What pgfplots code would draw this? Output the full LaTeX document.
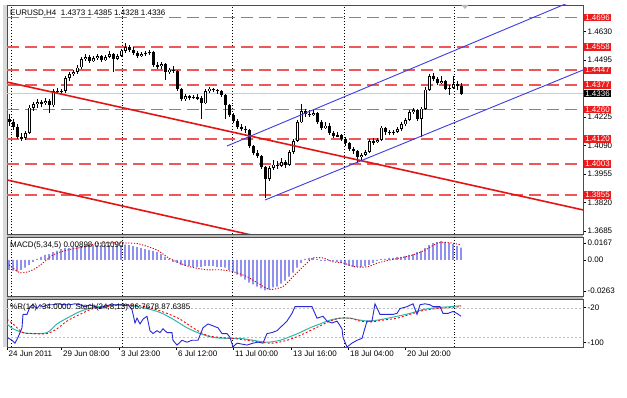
\documentclass[border=0pt]{standalone}
\usepackage{pgfplots}
\pgfplotsset{compat=1.18}
\usepackage{pgfplotstable}
\usepackage{fontspec}
\setmainfont{Liberation Sans}
\definecolor{lvl}{RGB}{238,88,88}
\definecolor{trend}{RGB}{228,20,20}
\definecolor{chan}{RGB}{60,60,225}
\definecolor{histc}{RGB}{85,85,235}
\definecolor{stochg}{RGB}{45,185,175}
\definecolor{wprb}{RGB}{40,40,215}
\definecolor{boxred}{RGB}{236,28,28}
\newcommand\mtf{\fontsize{8}{9.5}\selectfont}

\pgfplotstableread{
x O H L C
9 1.4215 1.4240 1.4185 1.4200
13 1.4200 1.4215 1.4165 1.4180
17 1.4180 1.4190 1.4120 1.4130
21 1.4130 1.4150 1.4110 1.4125
25 1.4125 1.4160 1.4115 1.4150
29 1.4150 1.4280 1.4145 1.4270
33 1.4270 1.4295 1.4255 1.4285
37 1.4285 1.4310 1.4270 1.4295
41 1.4295 1.4305 1.4275 1.4290
45 1.4290 1.4315 1.4280 1.4300
49 1.4300 1.4310 1.4245 1.4280
53 1.4280 1.4360 1.4275 1.4350
57 1.4350 1.4365 1.4335 1.4345
61 1.4345 1.4360 1.4330 1.4350
65 1.4350 1.4420 1.4340 1.4410
69 1.4410 1.4440 1.4395 1.4430
73 1.4430 1.4450 1.4420 1.4440
77 1.4440 1.4470 1.4430 1.4460
81 1.4460 1.4510 1.4455 1.4500
85 1.4500 1.4525 1.4490 1.4510
89 1.4510 1.4520 1.4480 1.4490
93 1.4490 1.4515 1.4485 1.4505
97 1.4505 1.4525 1.4495 1.4515
101 1.4515 1.4520 1.4485 1.4495
105 1.4495 1.4520 1.4490 1.4510
109 1.4510 1.4540 1.4505 1.4525
113 1.4525 1.4530 1.4440 1.4500
117 1.4500 1.4525 1.4495 1.4515
121 1.4515 1.4550 1.4510 1.4540
125 1.4540 1.4575 1.4530 1.4555
129 1.4555 1.4565 1.4535 1.4545
133 1.4545 1.4555 1.4520 1.4530
137 1.4530 1.4540 1.4505 1.4515
141 1.4515 1.4535 1.4510 1.4525
145 1.4525 1.4540 1.4515 1.4530
149 1.4530 1.4545 1.4520 1.4535
153 1.4535 1.4540 1.4460 1.4470
157 1.4470 1.4485 1.4455 1.4465
161 1.4465 1.4485 1.4455 1.4475
165 1.4475 1.4480 1.4400 1.4440
169 1.4440 1.4460 1.4430 1.4450
173 1.4450 1.4465 1.4435 1.4445
177 1.4445 1.4450 1.4350 1.4360
181 1.4360 1.4365 1.4300 1.4310
185 1.4310 1.4335 1.4300 1.4325
189 1.4325 1.4330 1.4305 1.4320
193 1.4320 1.4330 1.4310 1.4320
197 1.4320 1.4335 1.4305 1.4315
201 1.4315 1.4325 1.4215 1.4290
205 1.4290 1.4360 1.4285 1.4350
209 1.4350 1.4370 1.4340 1.4360
213 1.4360 1.4365 1.4345 1.4355
217 1.4355 1.4360 1.4335 1.4350
221 1.4350 1.4355 1.4320 1.4330
225 1.4330 1.4335 1.4215 1.4280
229 1.4280 1.4285 1.4225 1.4235
233 1.4235 1.4245 1.4195 1.4205
237 1.4205 1.4215 1.4170 1.4180
241 1.4180 1.4190 1.4160 1.4170
245 1.4170 1.4185 1.4150 1.4165
249 1.4165 1.4170 1.4080 1.4090
253 1.4090 1.4095 1.4045 1.4055
257 1.4055 1.4070 1.4030 1.4040
261 1.4040 1.4045 1.3980 1.3990
265 1.3990 1.3995 1.3840 1.3930
269 1.3930 1.3995 1.3920 1.3985
273 1.3985 1.4020 1.3975 1.4000
277 1.4000 1.4015 1.3980 1.3995
281 1.3995 1.4030 1.3990 1.4010
285 1.4010 1.4020 1.3985 1.4000
289 1.4000 1.4070 1.3995 1.4060
293 1.4060 1.4120 1.4050 1.4110
297 1.4110 1.4210 1.4105 1.4200
301 1.4200 1.4285 1.4195 1.4255
305 1.4255 1.4265 1.4225 1.4240
309 1.4240 1.4260 1.4225 1.4235
313 1.4235 1.4260 1.4230 1.4245
317 1.4245 1.4250 1.4190 1.4200
321 1.4200 1.4210 1.4165 1.4175
325 1.4175 1.4200 1.4170 1.4185
329 1.4185 1.4195 1.4140 1.4150
333 1.4150 1.4160 1.4125 1.4135
337 1.4135 1.4155 1.4130 1.4140
341 1.4140 1.4145 1.4110 1.4120
345 1.4120 1.4130 1.4090 1.4100
349 1.4100 1.4105 1.4065 1.4075
353 1.4075 1.4085 1.4050 1.4065
357 1.4065 1.4070 1.4005 1.4035
361 1.4035 1.4055 1.4020 1.4045
365 1.4045 1.4070 1.4040 1.4060
369 1.4060 1.4120 1.4055 1.4110
373 1.4110 1.4125 1.4095 1.4105
377 1.4105 1.4125 1.4100 1.4115
381 1.4115 1.4185 1.4110 1.4175
385 1.4175 1.4180 1.4140 1.4155
389 1.4155 1.4165 1.4140 1.4150
393 1.4150 1.4165 1.4140 1.4155
397 1.4155 1.4180 1.4150 1.4170
401 1.4170 1.4200 1.4160 1.4190
405 1.4190 1.4220 1.4185 1.4210
409 1.4210 1.4260 1.4205 1.4250
413 1.4250 1.4270 1.4240 1.4260
417 1.4260 1.4265 1.4205 1.4215
421 1.4215 1.4275 1.4130 1.4265
425 1.4265 1.4370 1.4260 1.4355
429 1.4355 1.4430 1.4350 1.4420
433 1.4420 1.4435 1.4395 1.4405
437 1.4405 1.4415 1.4375 1.4385
441 1.4385 1.4420 1.4380 1.4395
445 1.4395 1.4400 1.4355 1.4360
449 1.4360 1.4375 1.4330 1.4365
453 1.4365 1.4420 1.4360 1.4380
457 1.4380 1.4395 1.4355 1.4373
461 1.4373 1.4385 1.4328 1.4336
}\candles

\pgfplotstableread{
x m
9 -0.0072
13 -0.0079
17 -0.0086
21 -0.0072
25 -0.0057
29 -0.0036
33 -0.0014
37 0.0007
41 0.0022
45 0.0036
49 0.0043
53 0.0057
57 0.0065
61 0.0079
65 0.0086
69 0.0086
73 0.0093
77 0.0100
81 0.0100
85 0.0108
89 0.0108
93 0.0108
97 0.0108
101 0.0108
105 0.0108
109 0.0108
113 0.0100
117 0.0108
121 0.0108
125 0.0111
129 0.0108
133 0.0100
137 0.0093
141 0.0086
145 0.0079
149 0.0072
153 0.0065
157 0.0057
161 0.0043
165 0.0022
169 0.0007
173 -0.0014
177 -0.0022
181 -0.0036
185 -0.0043
189 -0.0043
193 -0.0050
197 -0.0050
201 -0.0050
205 -0.0043
209 -0.0043
213 -0.0043
217 -0.0050
221 -0.0050
225 -0.0057
229 -0.0072
233 -0.0086
237 -0.0108
241 -0.0122
245 -0.0143
249 -0.0165
253 -0.0179
257 -0.0194
261 -0.0208
265 -0.0222
269 -0.0215
273 -0.0201
277 -0.0194
281 -0.0172
285 -0.0151
289 -0.0122
293 -0.0093
297 -0.0057
301 -0.0022
305 0.0007
309 0.0014
313 0.0014
317 0.0007
321 -0.0007
325 -0.0007
329 -0.0007
333 -0.0007
337 -0.0014
341 -0.0022
345 -0.0036
349 -0.0043
353 -0.0050
357 -0.0050
361 -0.0050
365 -0.0043
369 -0.0036
373 -0.0022
377 -0.0007
381 0.0007
385 0.0007
389 0.0014
393 0.0014
397 0.0022
401 0.0022
405 0.0029
409 0.0036
413 0.0043
417 0.0057
421 0.0065
425 0.0086
429 0.0108
433 0.0122
437 0.0129
441 0.0136
445 0.0129
449 0.0122
453 0.0115
457 0.0100
461 0.0090
}\macd

\pgfplotstableread{
x s
7 -0.0022
20 -0.0093
33 -0.0072
43 -0.0022
53 0.0036
67 0.0072
83 0.0093
100 0.0122
133 0.0122
143 0.0108
157 0.0072
167 0.0022
177 -0.0014
190 -0.0050
207 -0.0072
220 -0.0072
233 -0.0086
247 -0.0122
260 -0.0179
270 -0.0215
283 -0.0194
293 -0.0122
300 -0.0072
307 -0.0022
313 0.0014
323 0.0014
333 -0.0014
343 -0.0022
355 -0.0050
367 -0.0050
378 -0.0022
390 0.0000
400 0.0014
413 0.0036
425 0.0072
437 0.0122
443 0.0129
453 0.0122
461 0.0109
}\macdsig

\pgfplotstableread{
x v
7 -80
12 -86
15 -92
18 -80
22 -60
23 -32
27 -32
30 -16
33 -12
37 -20
40 -12
43 -16
48 -12
53 -12
58 -10
65 -12
70 -12
75 -10
80 -12
85 -16
90 -12
95 -16
100 -20
103 -16
110 -12
115 -12
120 -12
125 -14
128 -12
132 -22
135 -50
137 -40
140 -52
143 -42
147 -36
150 -66
153 -72
157 -66
160 -70
163 -62
167 -70
172 -70
173 -86
177 -96
182 -86
187 -90
192 -86
198 -86
203 -60
208 -52
213 -56
218 -60
222 -72
227 -72
230 -80
233 -100
237 -92
242 -94
247 -96
253 -92
258 -90
263 -92
267 -72
272 -70
277 -66
282 -56
287 -46
292 -30
295 -16
300 -16
307 -16
312 -16
317 -40
323 -36
327 -46
332 -50
337 -46
342 -62
343 -80
347 -100
352 -92
357 -86
362 -82
367 -46
372 -46
375 -10
380 -32
387 -32
393 -32
397 -30
400 -20
407 -16
413 -10
417 -32
420 -12
425 -10
430 -12
433 -16
437 -16
440 -16
443 -30
448 -30
453 -26
457 -30
461 -36
}\wpr

\pgfplotstableread{
x v
7 -52
13 -62
23 -70
33 -72
47 -70
57 -52
67 -40
80 -26
93 -18
107 -14
120 -12
133 -14
147 -20
160 -28
173 -42
187 -60
200 -72
213 -80
227 -82
240 -82
253 -86
267 -90
280 -86
293 -76
300 -70
310 -60
320 -52
330 -44
340 -40
350 -40
360 -44
370 -46
383 -42
397 -36
410 -30
423 -22
437 -18
450 -16
461 -14
}\stm

\pgfplotstableread{
x v
7 -42
13 -52
23 -70
33 -72
47 -72
57 -62
67 -46
80 -32
93 -20
107 -16
123 -12
140 -14
153 -20
167 -30
180 -42
193 -60
207 -76
220 -80
233 -82
247 -86
260 -90
273 -92
287 -86
300 -76
310 -66
320 -56
330 -46
340 -40
350 -40
360 -46
370 -48
383 -44
397 -40
410 -32
423 -24
437 -20
450 -18
461 -16
}\sts

\pgfplotsset{
  mtpanel/.style={
    scale only axis, width=576pt, xmin=7, xmax=583,
    scaled ticks=false,
    axis line style={draw=black!70, line width=0.9pt},
    tick align=outside, major tick length=3pt,
    tick style={draw=black, line width=0.6pt},
    ytick pos=right, yticklabel pos=right,
    ticklabel style={font=\mtf, text=black},
    yticklabel style={inner sep=1.5pt},
    extra x ticks={11,122,232,344,454}, extra x tick labels={},
    extra x tick style={grid=major, major tick length=0pt,
      major grid style={draw=black, line width=0.8pt, dash pattern=on 0.9pt off 2pt}},
    clip mode=individual,
  },
}

\begin{document}
\begin{tikzpicture}[x=1pt,y=1pt]
\useasboundingbox (0pt,0pt) rectangle (627pt,398pt);
\clip (0pt,0pt) rectangle (627pt,398pt);
\fill[white] (0pt,0pt) rectangle (627pt,398pt);
\fill[gray!30] (3pt,51pt) rectangle (6.5pt,393pt);
\fill[gray!55] (7pt,161pt) rectangle (583pt,164pt);
\fill[gray!55] (7pt,99pt) rectangle (583pt,102pt);

% ---------- main price panel ----------
\begin{axis}[mtpanel, at={(7pt,393pt)}, anchor=north west, height=229pt,
  ymin=1.36709, ymax=1.47562, xtick=\empty,
  ytick={1.3685,1.3820,1.3955,1.4090,1.4225,1.4495,1.4630},
  yticklabels={1.3685,1.3820,1.3955,1.4090,1.4225,1.4495,1.4630}]
\addplot[gray!40, line width=0.8pt, forget plot] coordinates {(7,1.4336) (583,1.4336)};
% horizontal levels
\pgfplotsinvokeforeach{1.4696,1.4558,1.4447,1.4377,1.4260,1.4120,1.4003,1.3855}{
  \addplot[lvl, line width=1.6pt, dash pattern=on 12pt off 6pt, forget plot] coordinates {(7,#1) (583,#1)};
}
% wicks
\addplot[draw=none, mark=none, forget plot, error bars/.cd, y dir=both, y explicit, error mark=none,
  error bar style={draw=black, line width=1pt}]
  table[x=x, y expr={(\thisrow{H}+\thisrow{L})/2}, y error expr={(\thisrow{H}-\thisrow{L})/2}] {\candles};
% bodies
\addplot[draw=none, mark=none, forget plot, error bars/.cd, y dir=both, y explicit, error mark=none,
  error bar style={draw=black, line width=3pt}]
  table[x=x, y expr={(\thisrow{O}+\thisrow{C})/2}, y error expr={max(abs(\thisrow{O}-\thisrow{C})/2,0.00025)}] {\candles};
% white interior of rising candles
\addplot[draw=none, mark=none, forget plot, error bars/.cd, y dir=both, y explicit, error mark=none,
  error bar style={draw=white, line width=0.9pt}]
  table[x=x, y expr={(\thisrow{O}+\thisrow{C})/2}, y error expr={max((\thisrow{C}-\thisrow{O})/2-0.0004,0)}] {\candles};
% trend lines
\addplot[trend, line width=1.6pt, forget plot] coordinates {(7,1.4391) (583,1.3785)};
\addplot[trend, line width=1.6pt, forget plot] coordinates {(7,1.3927) (583,1.3312)};
\addplot[chan, line width=0.9pt, forget plot] coordinates {(227,1.4088) (583,1.4796)};
\addplot[chan, line width=0.9pt, forget plot] coordinates {(265,1.3832) (583,1.4448)};
% price boxes
\pgfplotsinvokeforeach{1.4696,1.4558,1.4447,1.4377,1.4260,1.4120,1.4003,1.3855}{
  \node[anchor=west, fill=boxred, text=white, inner xsep=1.6pt, inner ysep=0.9pt, font=\mtf] at (axis cs:583.5,#1) {#1};
}
\node[anchor=west, fill=black, text=white, inner xsep=1.6pt, inner ysep=0.9pt, font=\mtf] at (axis cs:583.5,1.4336) {1.4336};
\end{axis}

% ---------- MACD panel ----------
\begin{axis}[mtpanel, at={(7pt,161pt)}, anchor=north west, height=59pt,
  ymin=-0.0263, ymax=0.0167, xtick=\empty,
  ytick={0.0123,0,-0.0227}, yticklabels={0.0167,0.00,-0.0263}]
\addplot[ybar, bar width=1.2pt, fill=histc, draw=none, forget plot] table[x=x, y=m] {\macd};
\addplot[red!85!black, line width=0.9pt, dash pattern=on 1.2pt off 1.6pt, smooth, forget plot] table[x=x, y=s] {\macdsig};
\end{axis}

% ---------- %R / Stochastic panel ----------
\begin{axis}[mtpanel, at={(7pt,99pt)}, anchor=north west, height=48pt,
  ymin=-100, ymax=0,
  ytick={-18,-91}, yticklabels={-20,-100},
  xtick={7,61.5,119.5,176.5,233.5,291.5,348.5,405.5},
  xticklabels={24 Jun 2011,29 Jun 08:00,3 Jul 23:00,6 Jul 12:00,11 Jul 00:00,13 Jul 16:00,18 Jul 04:00,20 Jul 20:00},
  xtick pos=bottom, xticklabel style={anchor=north west, inner sep=1pt, xshift=0.5pt}]
\addplot[gray!50, line width=0.7pt, dash pattern=on 2pt off 2pt, forget plot] coordinates {(7,-20) (583,-20)};
\addplot[gray!50, line width=0.7pt, dash pattern=on 2pt off 2pt, forget plot] coordinates {(7,-80) (583,-80)};
\addplot[stochg, line width=1pt, smooth, forget plot] table[x=x, y=v] {\stm};
\addplot[red, line width=0.9pt, dash pattern=on 2pt off 2pt, smooth, forget plot] table[x=x, y=v] {\sts};
\addplot[wprb, line width=0.9pt, forget plot] table[x=x, y=v] {\wpr};
\end{axis}

% ---------- headers ----------
\node[anchor=west, font=\mtf, inner sep=0pt] at (10pt,385pt) {EURUSD,H4\ \ 1.4373 1.4385 1.4328 1.4336};
\node[anchor=west, font=\mtf, inner sep=0pt] at (10pt,153pt) {MACD(5,34,5) 0.00898 0.01090};
\node[anchor=west, font=\mtf, inner sep=0pt] at (10pt,91pt) {\%R(14) -34.0000\ \ Stoch(24,8,13) 86.7678 87.6385};
\fill[gray!55] (461.5pt,393pt) -- (468.5pt,393pt) -- (465pt,389pt) -- cycle;
\end{tikzpicture}
\end{document}
